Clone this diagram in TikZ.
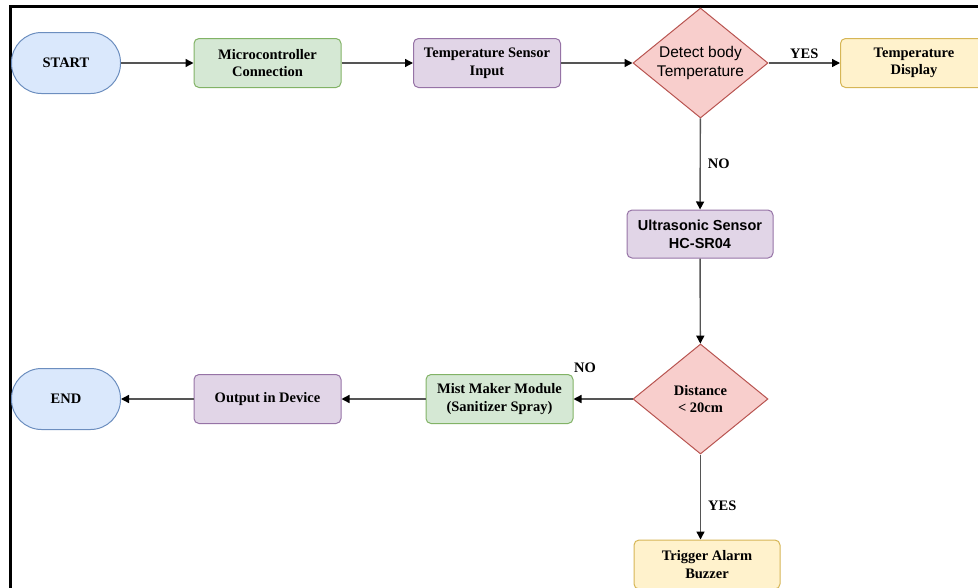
\documentclass[tikz,border=0pt]{standalone}
\usepackage{fontspec}
\setmainfont{Liberation Serif}
\newfontfamily\arialf{Liberation Sans}
\usetikzlibrary{shapes.geometric,arrows.meta}
\definecolor{bfill}{HTML}{DAE8FC}\definecolor{bdraw}{HTML}{6C8EBF}
\definecolor{gfill}{HTML}{D5E8D4}\definecolor{gdraw}{HTML}{82B366}
\definecolor{pfill}{HTML}{E1D5E7}\definecolor{pdraw}{HTML}{9673A6}
\definecolor{rfill}{HTML}{F8CECC}\definecolor{rdraw}{HTML}{B85450}
\definecolor{yfill}{HTML}{FFF2CC}\definecolor{ydraw}{HTML}{D6B656}
\definecolor{linec}{HTML}{555555}
\begin{document}
\begin{tikzpicture}[x=1pt,y=-1pt,
  every node/.style={font=\fontsize{14.5}{17.5}\selectfont\bfseries, align=center, inner sep=0pt},
  term/.style={draw=bdraw, fill=bfill, line width=1pt, rounded corners=30pt, minimum width=109pt, minimum height=61pt},
  box/.style={line width=1pt, rounded corners=5pt, minimum width=147pt, minimum height=49pt},
  gbox/.style={box, draw=gdraw, fill=gfill},
  pbox/.style={box, draw=pdraw, fill=pfill},
  ybox/.style={box, draw=ydraw, fill=yfill},
  dec/.style={diamond, draw=rdraw, fill=rfill, line width=1pt, minimum width=135pt, minimum height=110pt, aspect=1.227},
  conn/.style={draw=linec, line width=1.4pt, -{Triangle[length=8pt,width=8pt,color=black]}},
  lbl/.style={font=\fontsize{14.5}{17.5}\selectfont\bfseries},
  sansreg/.style={font=\fontsize{15.5}{18.5}\selectfont\arialf},
  sansbold/.style={font=\fontsize{14.5}{18}\selectfont\arialf\bfseries}
]
\useasboundingbox (0,0) rectangle (978,587);
\clip (0,0) rectangle (978,587);
\draw[line width=3pt] (10,600) -- (10,6) -- (990,6);

\node[term] (start) at (66,63) {START};
\node[gbox] (micro) at (267.5,63) {Microcontroller\\Connection};
\node[pbox] (tsens) at (487,63) {Temperature Sensor\\Input};
\node[dec, sansreg] (d1) at (700.5,63) {Detect body\\Temperature};
\node[ybox] (disp) at (914,63) {Temperature\\Display};
\node[pbox, sansbold, minimum width=146pt, minimum height=48pt] (ultra) at (700,234) {Ultrasonic Sensor\\HC-SR04};
\node[dec] (d2) at (700.5,399) {Distance\\\textless{} 20cm};
\node[gbox] (mist) at (499.5,399) {Mist Maker Module\\(Sanitizer Spray)};
\node[pbox] (out) at (267.5,399) {Output in Device};
\node[term] (end) at (66,399) {END};
\node[ybox, minimum width=146pt] (trig) at (707,564.5) {Trigger Alarm\\Buzzer};

\draw[conn] (start) -- (micro);
\draw[conn] (micro) -- (tsens);
\draw[conn] (tsens) -- (d1);
\draw[conn] (d1) -- node[lbl, above=4pt] {YES} (disp);
\draw[conn] (d1) -- node[lbl, right=7pt] {NO} (ultra);
\draw[conn] (ultra) -- (d2);
\draw[conn] (d2) -- (mist);
\node[lbl] (no2) at (585,368) {NO};
\draw[conn] (mist) -- (out);
\draw[conn] (out) -- (end);
\draw[conn] (d2.south) -- node[lbl, right=7pt, pos=0.6] {YES} (d2.south |- trig.north);
\end{tikzpicture}
\end{document}
